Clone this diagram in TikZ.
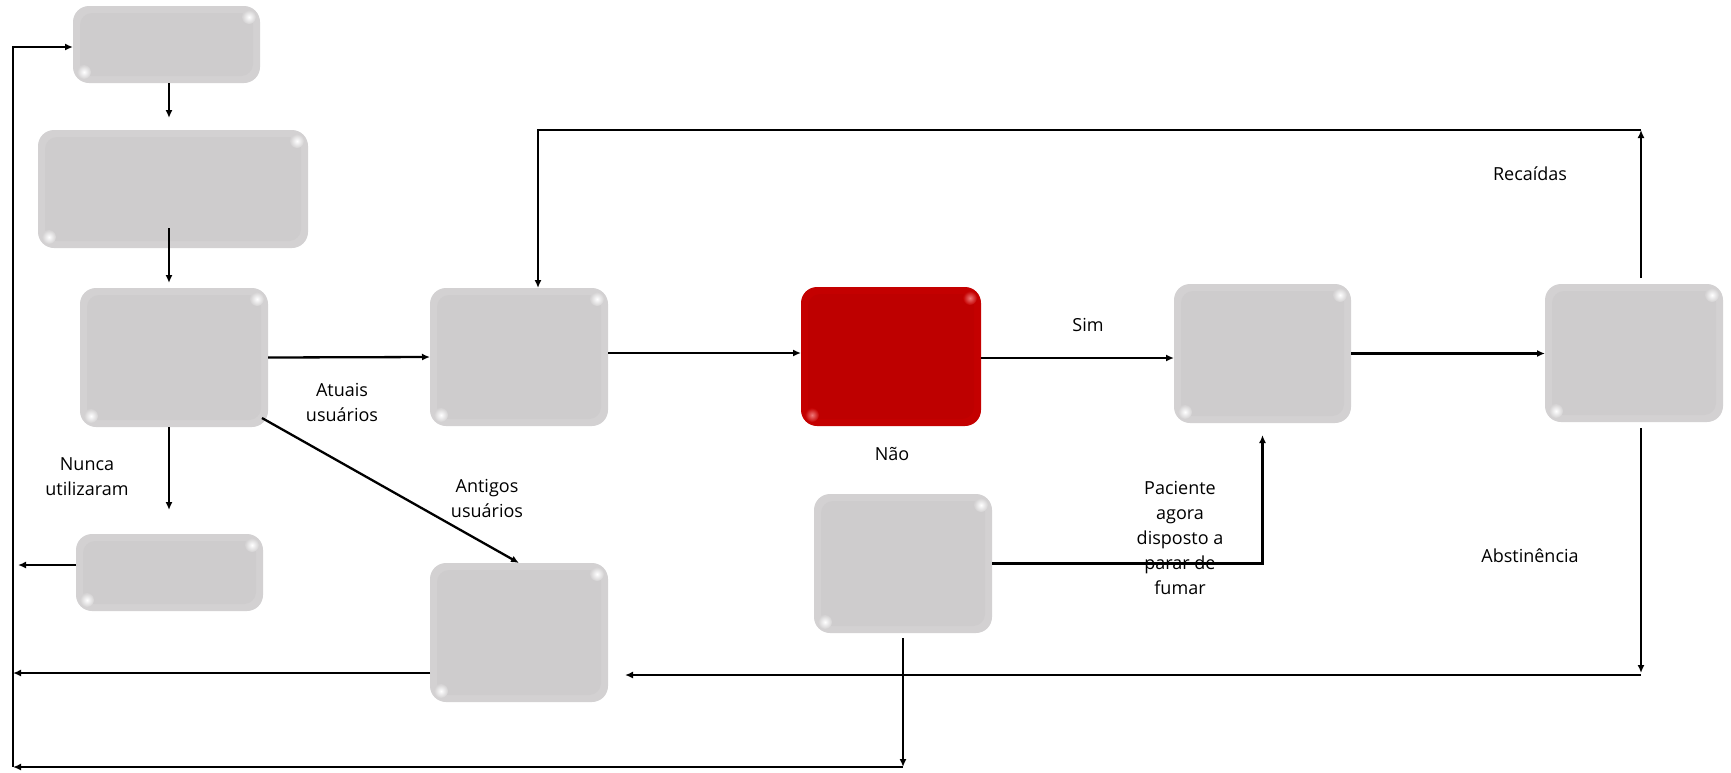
\documentclass[tikz,border=0pt]{standalone}
\usepackage{fontspec}
\setmainfont{Open Sans}
\usetikzlibrary{arrows.meta,calc}
\definecolor{boxgray}{RGB}{211,209,210}
\definecolor{boxinner}{RGB}{206,204,205}
\definecolor{boxred}{RGB}{196,0,0}
\definecolor{boxredin}{RGB}{190,0,0}
\definecolor{glowred}{RGB}{240,120,120}
\begin{document}
\begin{tikzpicture}[x=1pt,y=-1pt,
  font=\fontsize{18}{25}\selectfont,
  glossy/.style n args={3}{draw=none, outer sep=0pt, rounded corners=16pt, fill=#1,
    path picture={
      \fill[#2, rounded corners=12pt] ([shift={(7pt,-7pt)}]path picture bounding box.north west) rectangle ([shift={(-7pt,7pt)}]path picture bounding box.south east);
      \shade[inner color=#3, outer color=#1] ([shift={(-11pt,-11pt)}]path picture bounding box.north east) circle (7pt);
      \shade[inner color=#3, outer color=#1] ([shift={(11pt,11pt)}]path picture bounding box.south west) circle (7pt);
    }},
  gbox/.style={glossy={boxgray}{boxinner}{white}},
  rbox/.style={glossy={boxred}{boxredin}{glowred}},
  arr/.style={line width=2.3pt, -{Latex[length=8pt,width=7pt]}},
  lbl/.style={align=center, inner sep=0pt}]
\useasboundingbox (0,0) rectangle (1731,772);

% boxes
\node[gbox, minimum width=187pt, minimum height=77pt]  (A) at (166.5,44.5) {};
\node[gbox, minimum width=270pt, minimum height=118pt] (B) at (173,189) {};
\node[gbox, minimum width=188pt, minimum height=139pt] (C) at (174,357.5) {};
\node[gbox, minimum width=187pt, minimum height=77pt]  (D) at (169.5,572.5) {};
\node[gbox, minimum width=178pt, minimum height=138pt] (E) at (519,357) {};
\node[gbox, minimum width=178pt, minimum height=139pt] (F) at (519,632.5) {};
\node[rbox, minimum width=180pt, minimum height=139pt] (R) at (891,356.5) {};
\node[gbox, minimum width=178pt, minimum height=139pt] (H) at (903,563.5) {};
\node[gbox, minimum width=177pt, minimum height=139pt] (G) at (1262.5,353.5) {};
\node[gbox, minimum width=178pt, minimum height=138pt] (I) at (1634,353) {};

% routing coordinates
\coordinate (colx) at (169,0);
\coordinate (rail) at (13,0);
\coordinate (bot) at (0,767);
\coordinate (rx) at (1641,130);
\coordinate (tl) at (538,130);
\coordinate (br) at (1641,673);
\coordinate (ab) at (625,675);

% connectors
\draw[arr, shorten >=12pt] (A.south -| colx) -- (colx |- B.north);
\draw[arr, shorten >=5pt] ([yshift=20pt]B.south -| colx) -- (colx |- C.north);
\draw[arr] (C.east) -- (E.west);
\draw[arr] ([shift={(-6pt,9pt)}]C.south east) -- (F.north);
\draw[arr, shorten >=24pt] (C.south -| colx) -- (colx |- D.north);
\draw[arr, shorten >=5pt] ([yshift=7.5pt]D.west) -- ([yshift=7.5pt]D.west -| rail);
\draw[arr] ([yshift=-40.5pt]F.west) -- ([yshift=-40.5pt]F.west -| rail);
\draw[arr] ([yshift=4pt]E.east) -- ([yshift=4pt]E.east -| R.west);
\draw[arr] ([yshift=-1.5pt]R.east) -- ([yshift=-1.5pt]R.east -| G.west);
\draw[arr] (G.east) -- (G.east -| I.west);
\draw[arr] (H.east) -| ([yshift=-12pt]G.south);
\draw[arr] ([yshift=-5pt]H.south) -- (H.south |- bot);
\draw[arr] (H.south |- bot) -- (rail |- bot);
\draw[arr] (rail |- bot) -- ([yshift=-2.5pt]rail |- A.west) -- ([yshift=-2.5pt]A.west);
\draw[arr] ([yshift=6pt]I.north -| rx) -- (rx);
\draw[arr] (rx) -- (tl) -- (tl |- E.north);
\draw[arr] ([yshift=-6pt]I.south -| rx) -- (br);
\draw[arr] (br |- ab) -- (ab);

% labels
\node[lbl] (l1) at (87,477) {Nunca\\utilizaram};
\node[lbl] (l2) at (342,402) {Atuais\\usuários};
\node[lbl] (l3) at (487,498) {Antigos\\usuários};
\node[lbl] (l4) at (1088,325) {Sim};
\node[lbl] (l5) at (892,454) {Não};
\node[lbl] (l6) at (1180,538) {Paciente\\agora\\disposto a\\parar de\\fumar};
\node[lbl] (l7) at (1530,174) {Recaídas};
\node[lbl] (l8) at (1530,556) {Abstinência};
\end{tikzpicture}
\end{document}
